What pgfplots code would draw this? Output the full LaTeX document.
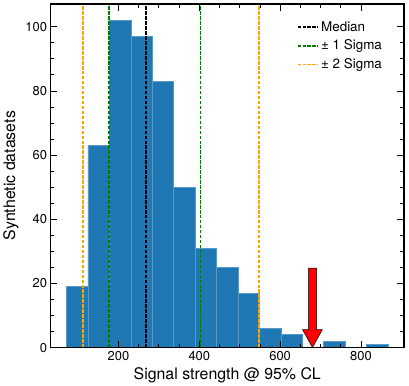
\documentclass[border=0pt]{standalone}
\usepackage{fontspec}
\setmainfont{TeX Gyre Heros}
\usepackage{pgfplots}
\pgfplotsset{compat=1.18}
\definecolor{mplblue}{rgb}{0.122,0.467,0.706}
\definecolor{mpledge}{rgb}{0.34,0.6,0.78}
\definecolor{mplgreen}{rgb}{0,0.5,0}
\definecolor{mplorange}{rgb}{1,0.647,0}
\newcommand\legfont{\fontsize{13.5}{16}\selectfont}
\begin{document}
\begin{tikzpicture}
\begin{axis}[
    scale only axis, width=356pt, height=346pt,
    xmin=32, xmax=906.5, ymin=0, ymax=107.1,
    axis on top,
    axis line style={line width=1.1pt},
    tick align=inside,
    xtick={200,400,600,800}, ytick={0,20,...,100},
    minor x tick num=3, minor y tick num=3,
    major tick length=7pt, minor tick length=4pt,
    every tick/.style={black, line width=0.8pt},
    ticklabel style={font=\fontsize{13}{15}\selectfont},
    /pgf/number format/assume math mode=true,
    xlabel={Signal strength @ 95\% CL}, ylabel={Synthetic datasets},
    label style={font=\fontsize{16}{19}\selectfont},
    legend style={draw=none, fill=none, inner sep=0pt, at={(0.696,0.956)}, anchor=north west,
        font=\legfont, row sep=3.5pt,
        /tikz/every even column/.append style={column sep=6pt}},
    legend cell align=left,
    legend image code/.code={\draw[#1] (0pt,0pt) -- (21pt,0pt);},
    vl/.style={line width=1.6pt, dash pattern=on 3.5pt off 1.5pt},
]
% histogram, 15 bins
\addplot[ybar interval, fill=mplblue, draw=mpledge, line width=0.5pt, forget plot] coordinates {
(71.7,19) (124.7,63) (177.7,102) (230.7,97) (283.7,83) (336.7,50) (389.7,31) (442.7,25)
(495.7,17) (548.7,6) (601.7,4) (654.7,0) (707.7,2) (760.7,0) (813.7,1) (866.7,0)
};
\addplot[vl, color=black] coordinates {(267.6,0) (267.6,107.1)};
\addlegendentry{Median}
\addplot[vl, color=mplgreen] coordinates {(176.7,0) (176.7,107.1)};
\addlegendentry{± 1 Sigma}
\addplot[vl, color=mplgreen, forget plot] coordinates {(403.5,0) (403.5,107.1)};
\addplot[vl, color=mplorange] coordinates {(112.8,0) (112.8,107.1)};
\addlegendentry{± 2 Sigma}
\addplot[vl, color=mplorange, forget plot] coordinates {(548.4,0) (548.4,107.1)};
% arrow
\addplot[fill=red, draw=black, line width=0.5pt, forget plot] coordinates {
(670,24.8) (690,24.8) (690,5.6) (704.5,5.6) (680,0) (655.5,5.6) (670,5.6)
} -- cycle;
\end{axis}
\path ([shift={(5pt,4pt)}]current axis.north east);
\end{tikzpicture}
\end{document}
